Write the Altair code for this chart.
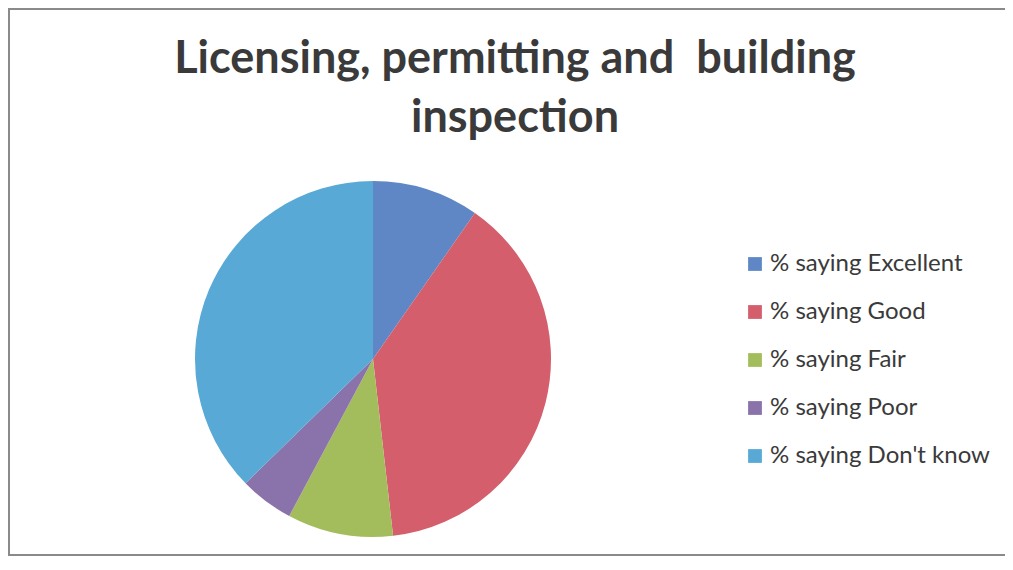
import altair as alt
import pandas as pd

categories = ["% saying Excellent", "% saying Good", "% saying Fair", "% saying Poor", "% saying Don't know"]
values = [9.7, 38.5, 9.6, 4.9, 37.3]
colors = ["#5F87C6", "#D45E6C", "#A4BD5C", "#8A72AB", "#58A9D6"]
title_lines = ["Licensing, permitting and\u00a0 building", "inspection"]

df = pd.DataFrame({"category": categories, "value": values, "order": list(range(len(categories)))})

W, H = 997, 548

frame = alt.Chart(pd.DataFrame({"f": [0]})).mark_rect(
    fill="white", stroke="#8a8a8a", strokeWidth=2
).encode(x=alt.value(1), x2=alt.value(W + 10), y=alt.value(1), y2=alt.value(H - 1))

pie = alt.Chart(df).mark_arc(radius=178, stroke=None).encode(
    theta=alt.Theta("value:Q", stack=True),
    order=alt.Order("order:Q"),
    color=alt.Color(
        "category:N",
        sort=categories,
        scale=alt.Scale(domain=categories, range=colors),
        legend=alt.Legend(
            title=None,
            orient="none",
            legendX=735,
            legendY=244,
            symbolType="square",
            symbolSize=190,
            symbolStrokeWidth=0,
            labelFont="Lato",
            labelFontSize=24,
            labelColor="#3a3a3a",
            labelLimit=400,
            rowPadding=24,
            labelOffset=3,
        ),
    ),
    x=alt.value(365),
    y=alt.value(351),
)

title = alt.Chart(pd.DataFrame({"t": [0]})).mark_text(
    text=title_lines,
    font="Lato",
    fontSize=45,
    fontWeight="bold",
    color="#3a3a3a",
    align="center",
    baseline="alphabetic",
    lineHeight=59,
).encode(x=alt.value(507), y=alt.value(65))

chart = alt.layer(frame, pie, title).properties(
    width=W,
    height=H,
    padding=0,
    autosize=alt.AutoSizeParams(type="none"),
).configure_view(
    stroke=None,
).configure(background="white")

chart.save("out.html", embed_options={"renderer": "svg", "actions": False})
